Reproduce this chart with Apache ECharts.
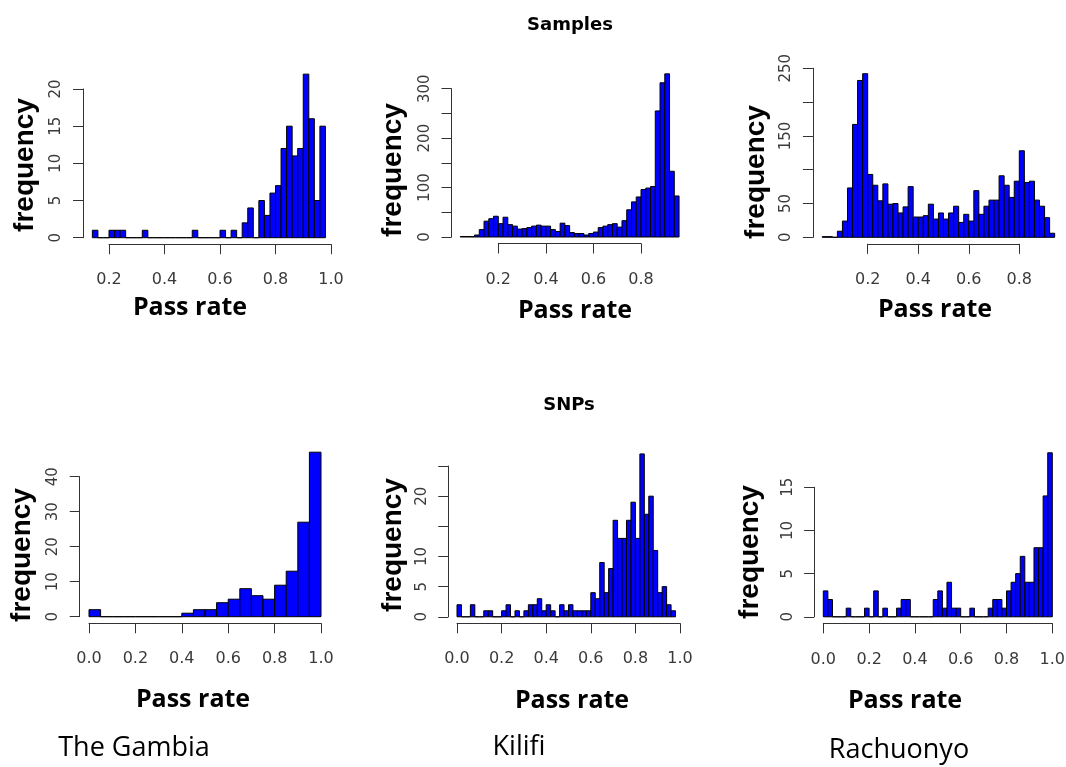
<!DOCTYPE html>
<html>
<head>
<meta charset="utf-8">
<script src="https://cdn.jsdelivr.net/npm/echarts@6/dist/echarts.min.js"></script>
<style>
html,body{margin:0;padding:0;background:#ffffff;}
#c{width:1066px;height:767px;}
</style>
</head>
<body>
<div id="c"></div>
<script>
// ---------------- DATA (counts per histogram bin) ----------------
const gambiaSamplesStart = 0.14;
const gambiaSamplesBin = 0.02;
const gambiaSamplesCounts = [1,0,0,1,1,1,0,0,0,1, 0,0,0,0,0,0,0,0, 1,0,0,0,0, 1,0,1,0,2,4,0,5,3,6,7,12,15,11,12,22,16,5,15];
const gambiaSamplesXTicks = ['0.2','0.4','0.6','0.8','1.0'];
const gambiaSamplesYTicks = ['0','5','10','15','20'];
const gambiaSamplesYLabels = ['0','5','10','15','20'];

const kilifiSamplesStart = 0.04;
const kilifiSamplesBin = 0.02;
const kilifiSamplesCounts = [1,1,1,4,15,32,37,42,27,40,25,22,16,17,19,22,24,22,22,15,11,28,23,9,7,7,4,7,10,19,22,25,27,20,33,55,71,81,96,99,102,255,312,330,133,83];
const kilifiSamplesXTicks = ['0.2','0.4','0.6','0.8'];
const kilifiSamplesYTicks = ['0','50','100','150','200','250','300'];
const kilifiSamplesYLabels = ['0','100','200','300'];

const rachuonyoSamplesStart = 0.02;
const rachuonyoSamplesBin = 0.02;
const rachuonyoSamplesCounts = [1,1,0,9,24,73,167,232,242,93,77,54,79,49,50,36,45,75,30,30,32,49,27,36,27,36,46,22,34,24,69,34,46,55,55,91,77,59,83,128,81,83,55,46,29,6];
const rachuonyoSamplesXTicks = ['0.2','0.4','0.6','0.8'];
const rachuonyoSamplesYTicks = ['0','50','100','150','200','250'];
const rachuonyoSamplesYLabels = ['0','50','150','250'];

const gambiaSnpsStart = 0.0;
const gambiaSnpsBin = 0.05;
const gambiaSnpsCounts = [2,0,0,0,0,0,0,0,1,2,2,4,5,8,6,5,9,13,27,47];
const gambiaSnpsXTicks = ['0.0','0.2','0.4','0.6','0.8','1.0'];
const gambiaSnpsYTicks = ['0','10','20','30','40'];
const gambiaSnpsYLabels = ['0','10','20','30','40'];

const kilifiSnpsStart = 0.0;
const kilifiSnpsBin = 0.02;
const kilifiSnpsCounts = [2,0,0,2,0,0,1,1,0,0,1,2,0,1,0,1,2,2,3,1,2,1,0,2,1,2,1,1,1,1,4,3,9,4,8,16,13,13,16,19,13,27,17,20,11,4,5,2,1];
const kilifiSnpsXTicks = ['0.0','0.2','0.4','0.6','0.8','1.0'];
const kilifiSnpsYTicks = ['0','5','10','15','20','25'];
const kilifiSnpsYLabels = ['0','5','10','20'];

const rachuonyoSnpsStart = 0.0;
const rachuonyoSnpsBin = 0.02;
const rachuonyoSnpsCounts = [3,2,0,0,0,1,0,0,0,1, 0,3,0,1,0,0,1,2,2,0, 0,0,0,0,2,3,1,4,1,1, 0,0,1,0,0,0,1,2,2,1, 3,4,5,7,4,4,8,8,14,19];
const rachuonyoSnpsXTicks = ['0.0','0.2','0.4','0.6','0.8','1.0'];
const rachuonyoSnpsYTicks = ['0','5','10','15'];
const rachuonyoSnpsYLabels = ['0','5','10','15'];

const rowTitles = ['Samples', 'SNPs'];
const siteNames = ['The Gambia', 'Kilifi', 'Rachuonyo'];
const xAxisTitle = 'Pass rate';
const yAxisTitle = 'frequency';

// ---------------- LAYOUT (pixel anchors of tick values) ----------------
const layouts = [
  {x0v:0.2, x0p:109,   x1v:1.0, x1p:331,    y0p:237.7, y1v:20,  y1p:89},
  {x0v:0.2, x0p:498.3, x1v:0.8, x1p:641,    y0p:237,   y1v:300, y1p:88.7},
  {x0v:0.2, x0p:867.7, x1v:0.8, x1p:1019.3, y0p:237.3, y1v:250, y1p:68.3},
  {x0v:0.0, x0p:89,    x1v:1.0, x1p:321,    y0p:616.7, y1v:40,  y1p:476.7},
  {x0v:0.0, x0p:457,   x1v:1.0, x1p:680,    y0p:616.8, y1v:25,  y1p:466},
  {x0v:0.0, x0p:823.3, x1v:1.0, x1p:1052.3, y0p:616.8, y1v:15,  y1p:487.3}
];
const freqPos = [[25,165],[393,170],[756,172],[22,555],[393,545],[750,552]];
const passPos = [[190,308],[575,311],[935,310],[193,700],[572,701],[905,701]];

const panels = [
  {start:gambiaSamplesStart, bin:gambiaSamplesBin, counts:gambiaSamplesCounts, xt:gambiaSamplesXTicks, yt:gambiaSamplesYTicks, yl:gambiaSamplesYLabels},
  {start:kilifiSamplesStart, bin:kilifiSamplesBin, counts:kilifiSamplesCounts, xt:kilifiSamplesXTicks, yt:kilifiSamplesYTicks, yl:kilifiSamplesYLabels},
  {start:rachuonyoSamplesStart, bin:rachuonyoSamplesBin, counts:rachuonyoSamplesCounts, xt:rachuonyoSamplesXTicks, yt:rachuonyoSamplesYTicks, yl:rachuonyoSamplesYLabels},
  {start:gambiaSnpsStart, bin:gambiaSnpsBin, counts:gambiaSnpsCounts, xt:gambiaSnpsXTicks, yt:gambiaSnpsYTicks, yl:gambiaSnpsYLabels},
  {start:kilifiSnpsStart, bin:kilifiSnpsBin, counts:kilifiSnpsCounts, xt:kilifiSnpsXTicks, yt:kilifiSnpsYTicks, yl:kilifiSnpsYLabels},
  {start:rachuonyoSnpsStart, bin:rachuonyoSnpsBin, counts:rachuonyoSnpsCounts, xt:rachuonyoSnpsXTicks, yt:rachuonyoSnpsYTicks, yl:rachuonyoSnpsYLabels}
];

const AXIS_COLOR = '#333333';
const LABEL_COLOR = '#3a3a3a';

const grids = [], xAxes = [], yAxes = [], series = [];

panels.forEach((p, i) => {
  const a = layouts[i];
  const n = p.counts.length;
  const b0 = p.start, b1 = p.start + n * p.bin;
  const r = b1 - b0;
  const usrX = [b0 - 0.04 * r, b1 + 0.04 * r];
  const cmax = Math.max.apply(null, p.counts);
  const usrY = [-0.04 * cmax, 1.04 * cmax];
  const sx = (a.x1p - a.x0p) / (a.x1v - a.x0v);
  const sy = (a.y0p - a.y1p) / (a.y1v - 0);
  const px = v => a.x0p + (v - a.x0v) * sx;
  const py = v => a.y0p - v * sy;
  const L = px(usrX[0]), R = px(usrX[1]), T = py(usrY[1]), B = py(usrY[0]);

  const xtMin = parseFloat(p.xt[0]), xtMax = parseFloat(p.xt[p.xt.length - 1]);
  const xtStep = parseFloat(p.xt[1]) - xtMin;
  const ytMax = parseFloat(p.yt[p.yt.length - 1]);
  const ytStep = parseFloat(p.yt[1]) - parseFloat(p.yt[0]);

  const gBase = grids.length;
  grids.push({left:L, top:T, width:R - L, height:B - T, containLabel:false, outerBoundsMode:'none'});
  grids.push({left:px(xtMin), top:T, width:px(xtMax) - px(xtMin), height:B - T, containLabel:false, outerBoundsMode:'none'});
  grids.push({left:L, top:py(ytMax), width:R - L, height:py(0) - py(ytMax), containLabel:false, outerBoundsMode:'none'});

  xAxes.push({gridIndex:gBase, type:'value', min:usrX[0], max:usrX[1], show:false});
  yAxes.push({gridIndex:gBase, type:'value', min:usrY[0], max:usrY[1], show:false});

  xAxes.push({
    gridIndex:gBase + 1, type:'value', min:xtMin, max:xtMax, interval:xtStep,
    axisLine:{show:true, lineStyle:{color:AXIS_COLOR, width:1}},
    axisTick:{show:true, inside:false, length:10, lineStyle:{color:AXIS_COLOR, width:1}},
    splitLine:{show:false},
    axisLabel:{show:true, margin:28, color:LABEL_COLOR, fontFamily:'DejaVu Sans', fontSize:16,
      showMinLabel:true, showMaxLabel:true, hideOverlap:false,
      formatter: v => v.toFixed(1)}
  });
  yAxes.push({gridIndex:gBase + 1, type:'value', show:false, min:0, max:1});

  xAxes.push({gridIndex:gBase + 2, type:'value', show:false, min:0, max:1});
  yAxes.push({
    gridIndex:gBase + 2, type:'value', min:0, max:ytMax, interval:ytStep,
    axisLine:{show:true, lineStyle:{color:AXIS_COLOR, width:1}},
    axisTick:{show:true, inside:false, length:10, lineStyle:{color:AXIS_COLOR, width:1}},
    splitLine:{show:false},
    axisLabel:{show:true, rotate:90, margin:19, color:LABEL_COLOR, fontFamily:'DejaVu Sans', fontSize:15,
      showMinLabel:true, showMaxLabel:true, hideOverlap:false,
      formatter: v => (p.yl.indexOf(String(Math.round(v))) >= 0 ? String(Math.round(v)) : '')}
  });

  const data = p.counts.map((c, k) => [b0 + k * p.bin, b0 + (k + 1) * p.bin, c]);
  series.push({
    type:'custom', xAxisIndex:gBase, yAxisIndex:gBase, clip:false, silent:true,
    encode:{x:[0,1], y:2},
    data:data,
    renderItem:(params, api) => {
      const x0 = api.value(0), x1 = api.value(1), c = api.value(2);
      const p0 = api.coord([x0, c]);
      const p1 = api.coord([x1, 0]);
      return {
        type:'rect',
        shape:{x:p0[0], y:p0[1], width:p1[0] - p0[0], height:Math.max(p1[1] - p0[1], 0.01)},
        style:{fill:'#0000ff', stroke:'#000000', lineWidth:1}
      };
    }
  });
});

const graphics = [];
freqPos.forEach(pos => {
  graphics.push({type:'text', x:pos[0], y:pos[1], rotation:Math.PI / 2,
    style:{text:yAxisTitle, fill:'#000', font:'bold 28px "Liberation Sans", Arial, sans-serif', textAlign:'center', textVerticalAlign:'middle'}});
});
passPos.forEach(pos => {
  graphics.push({type:'text', x:pos[0], y:pos[1],
    style:{text:xAxisTitle, fill:'#000', font:'bold 25px "Open Sans", sans-serif', textAlign:'center', textVerticalAlign:'middle'}});
});
graphics.push({type:'text', x:570, y:25, style:{text:rowTitles[0], fill:'#000', font:'bold 18px "DejaVu Sans", sans-serif', textAlign:'center', textVerticalAlign:'middle'}});
graphics.push({type:'text', x:569, y:405, style:{text:rowTitles[1], fill:'#000', font:'bold 18px "DejaVu Sans", sans-serif', textAlign:'center', textVerticalAlign:'middle'}});
const sitePos = [[134,748],[519,747],[899,750]];
siteNames.forEach((s, k) => {
  graphics.push({type:'text', x:sitePos[k][0], y:sitePos[k][1],
    style:{text:s, fill:'#000', font:'27px "Open Sans", sans-serif', textAlign:'center', textVerticalAlign:'middle'}});
});

const chart = echarts.init(document.getElementById('c'), null, {renderer:'canvas'});
chart.setOption({
  backgroundColor:'#ffffff',
  animation:false,
  grid:grids,
  xAxis:xAxes,
  yAxis:yAxes,
  series:series,
  graphic:graphics
});
</script>
</body>
</html>
